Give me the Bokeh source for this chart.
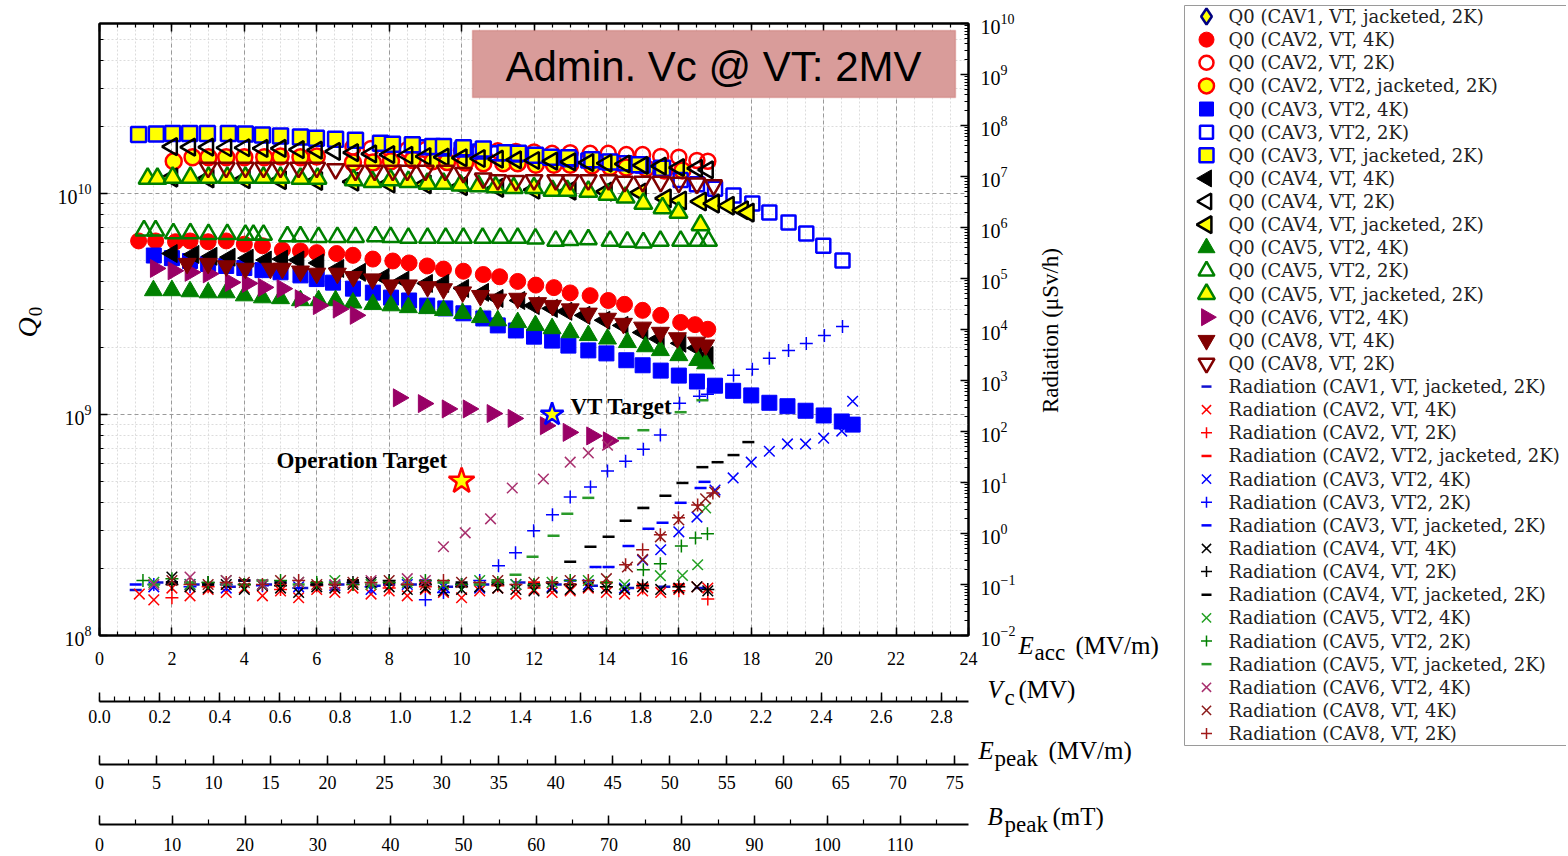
import math
from bokeh.plotting import figure
from bokeh.core.properties import value
from bokeh.models import (Range1d, LogScale, LinearAxis, LogAxis, FixedTicker, Label,
                          BoxAnnotation, ColumnDataSource, LogTickFormatter,
                          PrintfTickFormatter)
from bokeh.embed import file_html
from bokeh.resources import INLINE

# ---------------- data (Eacc in MV/m, Q0, radiation in uSv/h) ----------------
q_cav1_jk_x = []
q_cav1_jk = []
q_cav2_4k_x = [1.08, 1.55, 2.1, 2.5, 3.0, 3.5, 4.0, 4.5, 5.05, 5.55, 6.0, 6.55, 7.0, 7.55, 8.1, 8.55, 9.05, 9.5, 10.05, 10.6, 11.05, 11.55, 12.05, 12.55, 13.0, 13.55, 14.05, 14.5, 15.0, 15.5, 16.05, 16.45, 16.8]
q_cav2_4k = [6.1e9, 6.1e9, 6.05e9, 6.1e9, 6.05e9, 6.1e9, 5.9e9, 5.8e9, 5.55e9, 5.5e9, 5.4e9, 5.35e9, 5.25e9, 5.05e9, 4.95e9, 4.85e9, 4.7e9, 4.55e9, 4.45e9, 4.3e9, 4.2e9, 4.0e9, 3.85e9, 3.75e9, 3.55e9, 3.45e9, 3.28e9, 3.15e9, 2.96e9, 2.81e9, 2.61e9, 2.55e9, 2.43e9]
q_cav2_2k_x = [7.0, 7.5, 8.0, 8.5, 9.0, 9.5, 10.0, 10.5, 11.0, 11.5, 12.0, 12.5, 13.0, 13.55, 14.05, 14.55, 15.0, 15.5, 16.0, 16.5, 16.8]
q_cav2_2k = [1.62e10, 1.6e10, 1.6e10, 1.58e10, 1.58e10, 1.57e10, 1.56e10, 1.56e10, 1.56e10, 1.55e10, 1.54e10, 1.52e10, 1.53e10, 1.52e10, 1.52e10, 1.5e10, 1.5e10, 1.47e10, 1.46e10, 1.41e10, 1.4e10]
q_cav2_jk_x = [2.05, 2.57, 3.01, 3.5, 4.0, 4.55, 5.0, 5.55, 6.0, 7.0, 7.55, 8.05, 8.65, 9.2, 9.6, 10.1, 10.6, 11.15, 11.55, 12.05, 12.55, 13.0, 13.6, 14.1, 14.55, 15.1, 15.6, 16.1]
q_cav2_jk = [1.40e10, 1.46e10, 1.46e10, 1.46e10, 1.46e10, 1.46e10, 1.47e10, 1.46e10, 1.47e10, 1.38e10, 1.38e10, 1.40e10, 1.42e10, 1.40e10, 1.39e10, 1.38e10, 1.37e10, 1.37e10, 1.37e10, 1.35e10, 1.35e10, 1.35e10, 1.34e10, 1.32e10, 1.31e10, 1.3e10, 1.27e10, 1.27e10]
q_cav3_4k_x = [1.5, 2.0, 2.5, 3.0, 3.5, 4.0, 4.5, 5.0, 5.55, 6.0, 6.45, 7.0, 7.55, 8.05, 8.55, 9.05, 9.55, 10.05, 10.6, 11.0, 11.5, 12.0, 12.5, 12.95, 13.5, 14.0, 14.55, 15.0, 15.5, 16.0, 16.5, 17.0, 17.5, 18.0, 18.5, 19.0, 19.5, 20.0, 20.5, 20.8]
q_cav3_4k = [5.24e9, 5.1e9, 4.95e9, 4.8e9, 4.7e9, 4.6e9, 4.5e9, 4.4e9, 4.26e9, 4.1e9, 3.95e9, 3.71e9, 3.56e9, 3.38e9, 3.28e9, 3.11e9, 3.02e9, 2.87e9, 2.72e9, 2.53e9, 2.40e9, 2.25e9, 2.16e9, 2.05e9, 1.95e9, 1.89e9, 1.76e9, 1.67e9, 1.58e9, 1.50e9, 1.41e9, 1.35e9, 1.28e9, 1.22e9, 1.13e9, 1.09e9, 1.04e9, 9.9e8, 9.3e8, 9.0e8]
q_cav3_2k_x = [9.0, 9.5, 10.0, 10.5, 11.0, 11.5, 12.0, 12.5, 13.0, 13.5, 14.0, 14.5, 15.0, 15.5, 16.05, 16.5, 17.0, 17.51, 18.03, 18.5, 19.03, 19.52, 19.99, 20.52]
q_cav3_2k = [1.62e10, 1.6e10, 1.58e10, 1.55e10, 1.52e10, 1.5e10, 1.48e10, 1.45e10, 1.43e10, 1.41e10, 1.39e10, 1.37e10, 1.34e10, 1.3e10, 1.15e10, 1.1e10, 1.05e10, 9.8e9, 9.0e9, 8.2e9, 7.4e9, 6.6e9, 5.8e9, 4.98e9]
q_cav3_jk_x = [1.08, 1.57, 2.02, 2.49, 2.98, 3.56, 4.03, 4.5, 5.0, 5.55, 5.99, 6.52, 7.07, 7.76, 8.09, 8.64, 9.2, 9.5, 10.05, 10.6, 11.2, 11.57, 12.04, 12.46, 12.95, 13.6, 14.1, 14.9, 15.55]
q_cav3_jk = [1.85e10, 1.86e10, 1.87e10, 1.87e10, 1.87e10, 1.87e10, 1.86e10, 1.84e10, 1.82e10, 1.80e10, 1.78e10, 1.76e10, 1.74e10, 1.69e10, 1.67e10, 1.66e10, 1.63e10, 1.63e10, 1.61e10, 1.59e10, 1.53e10, 1.52e10, 1.49e10, 1.46e10, 1.45e10, 1.42e10, 1.39e10, 1.35e10, 1.30e10]
q_cav4_4k_x = [2.0, 2.6, 3.1, 3.6, 4.1, 4.6, 5.05, 5.5, 6.05, 6.6, 7.2, 7.85, 8.4, 9.05, 9.5, 10.05, 10.6, 11.0, 11.6, 12.0, 12.5, 12.9, 13.4, 13.95, 14.45, 15.0, 15.45, 16.05, 16.5, 16.8]
q_cav4_4k = [5.35e9, 5.3e9, 5.2e9, 5.15e9, 5.1e9, 5.0e9, 5.05e9, 5.0e9, 4.85e9, 4.58e9, 4.4e9, 4.17e9, 4.05e9, 3.92e9, 3.92e9, 3.72e9, 3.57e9, 3.35e9, 3.28e9, 3.11e9, 3.02e9, 2.93e9, 2.81e9, 2.67e9, 2.53e9, 2.35e9, 2.2e9, 2.1e9, 2.0e9, 1.85e9]
q_cav4_2k_x = [2.0, 2.5, 3.0, 3.5, 4.0, 4.5, 5.0, 5.5, 6.0, 6.5, 7.0, 7.5, 8.0, 8.5, 9.0, 9.5, 10.0, 10.5, 11.0, 11.5, 12.0, 12.5, 13.0, 13.5, 14.0, 14.5, 15.0, 15.5, 16.0, 16.5, 16.8]
q_cav4_2k = [1.63e10, 1.62e10, 1.62e10, 1.61e10, 1.61e10, 1.6e10, 1.6e10, 1.58e10, 1.57e10, 1.55e10, 1.53e10, 1.51e10, 1.5e10, 1.49e10, 1.47e10, 1.46e10, 1.45e10, 1.44e10, 1.43e10, 1.42e10, 1.41e10, 1.4e10, 1.39e10, 1.38e10, 1.37e10, 1.36e10, 1.34e10, 1.33e10, 1.31e10, 1.3e10, 1.28e10]
q_cav4_jk_x = [2.0, 3.0, 4.0, 5.0, 6.0, 7.0, 8.0, 9.0, 10.0, 11.0, 12.0, 13.0, 14.0, 14.94, 15.63, 16.05, 16.6, 16.96, 17.37, 17.76, 17.92]
q_cav4_jk = [1.18e10, 1.17e10, 1.16e10, 1.15e10, 1.14e10, 1.13e10, 1.11e10, 1.1e10, 1.08e10, 1.06e10, 1.04e10, 1.03e10, 1.02e10, 1.01e10, 9.5e9, 9.3e9, 9.2e9, 9.0e9, 8.8e9, 8.4e9, 8.2e9]
q_cav5_4k_x = [1.49, 2.0, 2.5, 3.0, 3.5, 4.0, 4.5, 5.0, 5.55, 6.05, 6.52, 7.0, 7.55, 8.05, 8.53, 9.06, 9.5, 10.03, 10.52, 11.0, 11.55, 12.04, 12.5, 13.0, 13.5, 14.03, 14.58, 15.08, 15.49, 16.0, 16.52, 16.74]
q_cav5_4k = [3.64e9, 3.64e9, 3.6e9, 3.56e9, 3.56e9, 3.45e9, 3.38e9, 3.35e9, 3.28e9, 3.28e9, 3.28e9, 3.2e9, 3.15e9, 3.11e9, 3.05e9, 3.02e9, 2.96e9, 2.87e9, 2.75e9, 2.66e9, 2.61e9, 2.53e9, 2.45e9, 2.35e9, 2.28e9, 2.2e9, 2.12e9, 2.03e9, 1.95e9, 1.85e9, 1.76e9, 1.70e9]
q_cav5_2k_x = [1.23, 1.55, 2.04, 2.51, 3.01, 3.53, 4.03, 4.25, 4.53, 5.19, 5.55, 6.05, 6.57, 7.07, 7.62, 8.04, 8.53, 9.06, 9.56, 10.05, 10.58, 11.07, 11.55, 12.04, 12.6, 13.0, 13.5, 14.1, 14.58, 15.02, 15.49, 16.05, 16.52, 16.82]
q_cav5_2k = [6.8e9, 6.8e9, 6.6e9, 6.6e9, 6.55e9, 6.55e9, 6.5e9, 6.5e9, 6.5e9, 6.4e9, 6.4e9, 6.35e9, 6.35e9, 6.35e9, 6.4e9, 6.35e9, 6.3e9, 6.3e9, 6.3e9, 6.3e9, 6.3e9, 6.3e9, 6.3e9, 6.25e9, 6.1e9, 6.15e9, 6.2e9, 6.1e9, 6.05e9, 6.0e9, 6.1e9, 6.1e9, 6.1e9, 6.1e9]
q_cav5_jk_x = [1.33, 1.6, 2.02, 2.51, 3.01, 3.53, 4.03, 4.53, 5.0, 5.55, 6.02, 7.02, 7.54, 8.04, 8.53, 9.06, 9.5, 9.97, 10.47, 10.94, 11.44, 12.0, 12.51, 12.92, 13.5, 14.03, 14.53, 15.02, 15.55, 15.99, 16.6]
q_cav5_jk = [1.17e10, 1.17e10, 1.18e10, 1.18e10, 1.18e10, 1.18e10, 1.18e10, 1.18e10, 1.18e10, 1.17e10, 1.17e10, 1.15e10, 1.13e10, 1.15e10, 1.13e10, 1.11e10, 1.11e10, 1.09e10, 1.08e10, 1.07e10, 1.06e10, 1.06e10, 1.03e10, 1.03e10, 1.02e10, 9.9e9, 9.6e9, 9.0e9, 8.6e9, 8.2e9, 7.2e9]
q_cav6_4k_x = [1.55, 2.04, 2.51, 3.01, 3.62, 4.09, 4.53, 5.05, 5.55, 6.05, 6.6, 7.07, 8.26, 8.95, 9.61, 10.19, 10.85, 11.43, 12.32, 12.95, 13.6, 14.06]
q_cav6_4k = [4.58e9, 4.47e9, 4.4e9, 4.33e9, 3.96e9, 3.92e9, 3.76e9, 3.71e9, 3.34e9, 3.11e9, 3.0e9, 2.81e9, 1.19e9, 1.12e9, 1.06e9, 1.06e9, 1.01e9, 9.6e8, 8.9e8, 8.3e8, 8.0e8, 7.6e8]
q_cav8_4k_x = [2.42, 3.0, 3.5, 4.03, 4.72, 5.05, 5.55, 6.0, 6.57, 7.01, 7.54, 8.04, 8.53, 9.06, 9.5, 10.03, 10.52, 11.0, 11.55, 12.1, 12.51, 13.0, 13.5, 14.03, 14.47, 15.0, 15.49, 15.96, 16.49, 16.74]
q_cav8_4k = [4.82e9, 4.82e9, 4.7e9, 4.58e9, 4.58e9, 4.58e9, 4.45e9, 4.35e9, 4.35e9, 4.2e9, 4.1e9, 3.85e9, 3.85e9, 3.78e9, 3.7e9, 3.58e9, 3.45e9, 3.32e9, 3.35e9, 3.2e9, 3.11e9, 3.0e9, 2.87e9, 2.72e9, 2.58e9, 2.48e9, 2.35e9, 2.22e9, 2.12e9, 2.06e9]
q_cav8_2k_x = [3.0, 3.5, 4.03, 4.53, 5.0, 5.5, 6.0, 6.52, 7.07, 7.6, 8.1, 8.5, 9.0, 9.55, 10.05, 10.6, 11.0, 11.5, 12.0, 12.6, 13.0, 13.5, 14.06, 14.5, 15.0, 15.5, 16.0, 16.5, 16.96]
q_cav8_2k = [1.31e10, 1.31e10, 1.31e10, 1.31e10, 1.31e10, 1.31e10, 1.31e10, 1.29e10, 1.27e10, 1.27e10, 1.27e10, 1.27e10, 1.27e10, 1.27e10, 1.24e10, 1.17e10, 1.15e10, 1.14e10, 1.15e10, 1.15e10, 1.15e10, 1.15e10, 1.15e10, 1.13e10, 1.13e10, 1.13e10, 1.12e10, 1.11e10, 1.09e10]

r_cav1_jk_x = [1.0, 1.6, 2.6, 3.6, 4.6, 5.6, 6.6, 7.6, 8.6, 9.6, 10.6, 11.6, 12.6, 13.6, 14.6, 15.6, 16.6]
r_cav1_jk = [0.078, 0.11, 0.1, 0.09, 0.1, 0.085, 0.1, 0.095, 0.1, 0.09, 0.1, 0.11, 0.1, 0.095, 0.085, 0.09, 0.085]
r_cav2_4k_x = [1.1, 1.5, 2.0, 2.5, 3.0, 3.5, 4.0, 4.5, 5.0, 5.5, 6.0, 6.5, 7.0, 7.5, 8.0, 8.5, 9.0, 9.5, 10.0, 10.5, 11.0, 11.5, 12.0, 12.5, 13.0, 13.5, 14.0, 14.5, 15.0, 15.5, 16.0, 16.5, 16.8]
r_cav2_4k = [0.065, 0.05, 0.085, 0.06, 0.08, 0.07, 0.085, 0.06, 0.075, 0.055, 0.08, 0.07, 0.085, 0.065, 0.075, 0.06, 0.08, 0.07, 0.055, 0.075, 0.085, 0.065, 0.08, 0.07, 0.075, 0.085, 0.07, 0.065, 0.075, 0.07, 0.08, 0.09, 0.085]
r_cav2_2k_x = [2.0, 3.0, 4.0, 5.0, 6.0, 7.0, 8.0, 9.0, 10.0, 11.0, 12.0, 13.0, 14.0, 15.0, 16.0, 16.8]
r_cav2_2k = [0.055, 0.09, 0.1, 0.08, 0.095, 0.1, 0.085, 0.09, 0.1, 0.095, 0.085, 0.1, 0.09, 0.085, 0.075, 0.052]
r_cav2_jk_x = [2.0, 3.0, 4.0, 5.0, 6.0, 7.0, 8.0, 9.0, 10.0, 11.0, 12.0, 13.0, 14.0, 15.0, 16.0]
r_cav2_jk = [0.11, 0.1, 0.12, 0.1, 0.11, 0.12, 0.1, 0.11, 0.1, 0.12, 0.11, 0.1, 0.11, 0.1, 0.1]
r_cav3_4k_x = [1.5, 2.5, 3.5, 4.5, 5.5, 6.5, 7.5, 8.5, 9.5, 10.5, 11.5, 12.5, 13.5, 14.5, 15.0, 15.5, 16.0, 16.5, 17.0, 17.5, 18.0, 18.5, 19.0, 19.5, 20.0, 20.5, 20.8]
r_cav3_4k = [0.09, 0.1, 0.085, 0.1, 0.09, 0.095, 0.08, 0.1, 0.09, 0.085, 0.1, 0.09, 0.1, 0.085, 0.3, 0.48, 1.08, 2.1, 7.1, 12.3, 25, 41, 57, 57, 74, 102, 392]
r_cav3_2k_x = [1.5, 2.5, 3.5, 4.5, 5.5, 6.5, 7.5, 8.5, 9.0, 9.5, 10.0, 10.5, 11.02, 11.49, 11.99, 12.51, 13.0, 13.56, 14.03, 14.53, 15.02, 15.49, 16.02, 16.57, 16.79, 17.51, 18.03, 18.5, 19.03, 19.52, 20.02, 20.52]
r_cav3_2k = [0.1, 0.09, 0.1, 0.095, 0.085, 0.1, 0.09, 0.1, 0.05, 0.07, 0.1, 0.12, 0.234, 0.42, 1.13, 2.32, 5.2, 8.2, 16.8, 26, 45, 85, 358, 491, 537, 1263, 1655, 2716, 3890, 5330, 7640, 11460]
r_cav3_jk_x = [1.0, 2.0, 3.0, 4.0, 5.0, 6.0, 7.0, 8.0, 9.0, 10.0, 11.0, 12.0, 13.0, 13.7, 14.06, 14.61, 15.16, 15.55, 16.05, 16.6, 16.71]
r_cav3_jk = [0.1, 0.11, 0.1, 0.12, 0.11, 0.1, 0.11, 0.1, 0.12, 0.1, 0.11, 0.1, 0.12, 0.22, 0.22, 0.57, 1.24, 1.62, 4.0, 7.8, 10.3]
r_cav4_4k_x = [2.0, 2.5, 3.0, 3.5, 4.0, 4.5, 5.0, 5.5, 6.0, 6.5, 7.0, 7.5, 8.0, 8.5, 9.0, 9.5, 10.0, 10.5, 11.0, 11.5, 12.0, 12.5, 13.0, 13.5, 14.0, 14.5, 15.0, 15.5, 16.0, 16.5, 16.8]
r_cav4_4k = [0.14, 0.09, 0.085, 0.1, 0.08, 0.095, 0.085, 0.07, 0.09, 0.085, 0.1, 0.11, 0.09, 0.08, 0.085, 0.075, 0.08, 0.09, 0.085, 0.08, 0.075, 0.085, 0.08, 0.09, 0.085, 0.08, 0.09, 0.08, 0.085, 0.09, 0.075]
r_cav4_2k_x = [2.0, 3.0, 4.0, 5.0, 6.0, 7.0, 8.0, 9.0, 10.0, 11.0, 12.0, 13.0, 14.0, 15.0, 16.0, 16.8]
r_cav4_2k = [0.1, 0.11, 0.1, 0.095, 0.1, 0.11, 0.12, 0.1, 0.09, 0.1, 0.095, 0.1, 0.09, 0.095, 0.09, 0.08]
r_cav4_jk_x = [2.0, 3.0, 4.0, 5.0, 6.0, 7.0, 8.0, 9.0, 10.0, 11.0, 12.0, 12.5, 13.0, 13.56, 14.06, 14.53, 15.02, 15.63, 16.1, 16.65, 17.07, 17.51, 17.92]
r_cav4_jk = [0.11, 0.1, 0.12, 0.11, 0.1, 0.12, 0.11, 0.1, 0.11, 0.12, 0.1, 0.11, 0.28, 0.55, 0.86, 1.77, 3.18, 5.5, 9.8, 20, 25, 34.5, 62]
r_cav5_4k_x = [1.5, 2.5, 3.5, 4.5, 5.5, 6.5, 7.5, 8.5, 9.5, 10.5, 11.5, 12.5, 13.5, 14.5, 15.49, 16.1, 16.52, 16.74]
r_cav5_4k = [0.11, 0.1, 0.12, 0.1, 0.11, 0.12, 0.1, 0.11, 0.1, 0.12, 0.1, 0.11, 0.12, 0.1, 0.149, 0.15, 0.244, 3.18]
r_cav5_2k_x = [1.2, 2.0, 3.0, 4.0, 5.0, 6.0, 7.0, 8.0, 9.0, 10.0, 11.0, 12.0, 13.0, 14.0, 15.02, 15.49, 16.07, 16.46, 16.79]
r_cav5_2k = [0.12, 0.13, 0.11, 0.1, 0.12, 0.11, 0.1, 0.11, 0.12, 0.1, 0.11, 0.1, 0.12, 0.11, 0.195, 0.256, 0.57, 0.82, 0.99]
r_cav5_jk_x = [1.5, 2.5, 3.5, 4.5, 5.5, 6.5, 7.5, 8.5, 9.5, 10.5, 11.0, 11.49, 11.96, 12.54, 12.92, 13.5, 14.47, 15.02, 16.05, 16.65]
r_cav5_jk = [0.1, 0.11, 0.1, 0.12, 0.1, 0.11, 0.1, 0.1, 0.11, 0.1, 0.12, 0.156, 0.35, 0.9, 2.43, 5.0, 74, 106, 239, 410]
r_cav6_4k_x = [1.5, 2.5, 3.5, 4.5, 5.5, 6.5, 7.5, 8.5, 9.0, 9.5, 10.1, 10.8, 11.4, 12.26, 13.0, 13.5, 14.03]
r_cav6_4k = [0.1, 0.14, 0.12, 0.1, 0.11, 0.1, 0.12, 0.13, 0.12, 0.55, 1.03, 1.94, 7.8, 11.7, 25, 38, 54]
r_cav8_4k_x = [2.0, 3.0, 4.0, 5.0, 6.0, 7.0, 8.0, 9.0, 10.0, 11.0, 12.0, 13.0, 14.0, 14.58, 15.0, 15.49, 16.0, 16.52, 16.74, 16.99]
r_cav8_4k = [0.12, 0.1, 0.11, 0.12, 0.1, 0.11, 0.12, 0.1, 0.11, 0.12, 0.11, 0.12, 0.13, 0.22, 0.31, 0.86, 1.85, 3.3, 4.8, 6.5]
r_cav8_2k_x = [2.5, 3.5, 4.5, 5.5, 6.5, 7.5, 8.5, 9.5, 10.5, 11.5, 12.5, 13.5, 14.53, 15.0, 15.49, 15.99, 16.52, 16.94]
r_cav8_2k = [0.1, 0.11, 0.1, 0.12, 0.1, 0.11, 0.1, 0.12, 0.11, 0.1, 0.11, 0.12, 0.244, 0.48, 0.94, 2.03, 3.64, 6.2]

vt_target_x = [12.5]
vt_target_q = [1.0e9]
op_target_x = [10.0]
op_target_q = [5.0e8]

eacc_ticks = [0, 2, 4, 6, 8, 10, 12, 14, 16, 18, 20, 22, 24]
vc_ticks = [0.0, 0.2, 0.4, 0.6, 0.8, 1.0, 1.2, 1.4, 1.6, 1.8, 2.0, 2.2, 2.4, 2.6, 2.8]
epeak_ticks = [0, 5, 10, 15, 20, 25, 30, 35, 40, 45, 50, 55, 60, 65, 70, 75]
bpeak_ticks = [0, 10, 20, 30, 40, 50, 60, 70, 80, 90, 100, 110]
q_ticks = [1e8, 1e9, 1e10]
rad_ticks = [1e-2, 1e-1, 1e0, 1e1, 1e2, 1e3, 1e4, 1e5, 1e6, 1e7, 1e8, 1e9, 1e10]

# ---------------- geometry ----------------
W, H = 1566, 856
FL, FT, FW, FH = 99, 23, 869, 612
E_MAX = 24.0
VC_MAX, EP_MAX, BP_MAX = 2.89, 76.2, 119.4
DEC = 221.0                           # px per Q0 decade


def ex(px):
    return (px - FL) / FW * E_MAX


def qy(py):
    return 10 ** (8 + (FT + FH - py) / DEC)


SERIF = "Liberation Serif"

p = figure(width=W, height=H, x_range=Range1d(0, E_MAX),
           y_range=Range1d(1e8, 10 ** (8 + FH / DEC)), y_axis_type="log",
           output_backend="svg", toolbar_location=None,
           min_border_left=FL, min_border_top=FT,
           min_border_right=W - FL - FW, min_border_bottom=H - FT - FH)
p.background_fill_color = "white"
p.border_fill_color = "white"
p.outline_line_color = "black"
p.outline_line_width = 2
p.extra_y_ranges = {"rad": Range1d(1e-2, 1e10)}
p.extra_y_scales = {"rad": LogScale()}
p.extra_x_ranges = {"vc": Range1d(0, VC_MAX), "ep": Range1d(0, EP_MAX), "bp": Range1d(0, BP_MAX)}


def minor_lin(step, hi):
    n = int(round(hi / step))
    return [round(i * step, 4) for i in range(n + 1)]


def minor_log(lo_exp, hi_exp):
    return [k * 10.0 ** e for e in range(lo_exp, hi_exp) for k in range(2, 10)]


xt = FixedTicker(ticks=eacc_ticks, minor_ticks=minor_lin(0.5, 24))
qt = FixedTicker(ticks=q_ticks, minor_ticks=minor_log(8, 11))
rt = FixedTicker(ticks=rad_ticks, minor_ticks=minor_log(-2, 10))


def style_axis(ax, tick_in=8, minor_in=4, size="18px", standoff=8):
    ax.axis_line_width = 2
    ax.axis_line_color = "black"
    ax.major_tick_in = tick_in
    ax.major_tick_out = 0
    ax.minor_tick_in = minor_in
    ax.minor_tick_out = 0
    ax.major_tick_line_width = 1.5
    ax.minor_tick_line_width = 1.2
    ax.major_label_text_font = SERIF
    ax.major_label_text_font_size = size
    ax.major_label_text_color = "black"
    ax.major_label_standoff = standoff


xa = p.xaxis[0]
xa.ticker = xt
style_axis(xa, standoff=16)
xa.axis_label = " "
xa.axis_label_text_font_size = "20px"
xa.axis_label_standoff = 9

ya = p.yaxis[0]
ya.ticker = qt
style_axis(ya, size="20px", standoff=8)

p.xgrid.ticker = xt
p.ygrid.ticker = qt
for g in (p.xgrid[0], p.ygrid[0]):
    g.grid_line_color = "#9a9a9a"
    g.grid_line_dash = "4 3"
    g.grid_line_width = 1
    g.minor_grid_line_color = "#dcdcdc"
    g.minor_grid_line_dash = "2 2"
    g.minor_grid_line_width = 1

ta = LinearAxis(ticker=xt)
style_axis(ta, size="1px", standoff=0)
ta.major_label_text_alpha = 0
p.add_layout(ta, "above")

ra = LogAxis(y_range_name="rad", ticker=rt, formatter=LogTickFormatter())
style_axis(ra, size="20px", standoff=12)
p.add_layout(ra, "right")

vca = LinearAxis(x_range_name="vc", ticker=FixedTicker(ticks=vc_ticks, minor_ticks=minor_lin(0.05, 2.85)),
                 formatter=PrintfTickFormatter(format="%.1f"))
style_axis(vca, tick_in=9, minor_in=5, standoff=8)
vca.axis_label = " "
vca.axis_label_text_font_size = "20px"
vca.axis_label_standoff = 14
p.add_layout(vca, "below")

epa = LinearAxis(x_range_name="ep", ticker=FixedTicker(ticks=epeak_ticks, minor_ticks=minor_lin(2.5, 75)))
style_axis(epa, tick_in=9, minor_in=5, standoff=11)
epa.axis_label = " "
epa.axis_label_text_font_size = "20px"
epa.axis_label_standoff = 8
p.add_layout(epa, "below")

bpa = LinearAxis(x_range_name="bp", ticker=FixedTicker(ticks=bpeak_ticks, minor_ticks=minor_lin(5, 115)))
style_axis(bpa, tick_in=9, minor_in=5, standoff=13)
p.add_layout(bpa, "below")

# ---------------- series ----------------
GREEN = "#008000"
PURPLE = "#990066"
DRED = "#800000"
YEL = "#ffff00"
HALF = math.pi / 2

q_specs = [
    ("Q0 (CAV1, VT, jacketed, 2K)", q_cav1_jk_x, q_cav1_jk, "diamond", 17, YEL, "#000080", 2.5, 0),
    ("Q0 (CAV2, VT, 4K)", q_cav2_4k_x, q_cav2_4k, "circle", 16, "red", "red", 1, 0),
    ("Q0 (CAV2, VT, 2K)", q_cav2_2k_x, q_cav2_2k, "circle", 15, None, "red", 2.5, 0),
    ("Q0 (CAV2, VT2, jacketed, 2K)", q_cav2_jk_x, q_cav2_jk, "circle", 16, YEL, "red", 2.5, 0),
    ("Q0 (CAV3, VT2, 4K)", q_cav3_4k_x, q_cav3_4k, "square", 15, "blue", "blue", 1, 0),
    ("Q0 (CAV3, VT2, 2K)", q_cav3_2k_x, q_cav3_2k, "square", 14, None, "blue", 2.5, 0),
    ("Q0 (CAV3, VT, jacketed, 2K)", q_cav3_jk_x, q_cav3_jk, "square", 15, YEL, "blue", 2.5, 0),
    ("Q0 (CAV4, VT, 4K)", q_cav4_4k_x, q_cav4_4k, "triangle", 18, "black", "black", 1, HALF),
    ("Q0 (CAV4, VT, 2K)", q_cav4_2k_x, q_cav4_2k, "triangle", 17, None, "black", 2.5, HALF),
    ("Q0 (CAV4, VT, jacketed, 2K)", q_cav4_jk_x, q_cav4_jk, "triangle", 18, YEL, "black", 2.5, HALF),
    ("Q0 (CAV5, VT2, 4K)", q_cav5_4k_x, q_cav5_4k, "triangle", 18, GREEN, GREEN, 1, 0),
    ("Q0 (CAV5, VT2, 2K)", q_cav5_2k_x, q_cav5_2k, "triangle", 17, None, GREEN, 2.5, 0),
    ("Q0 (CAV5, VT, jacketed, 2K)", q_cav5_jk_x, q_cav5_jk, "triangle", 18, YEL, GREEN, 2.5, 0),
    ("Q0 (CAV6, VT2, 4K)", q_cav6_4k_x, q_cav6_4k, "triangle", 18, PURPLE, PURPLE, 1, -HALF),
    ("Q0 (CAV8, VT, 4K)", q_cav8_4k_x, q_cav8_4k, "inverted_triangle", 18, DRED, DRED, 1, 0),
    ("Q0 (CAV8, VT, 2K)", q_cav8_2k_x, q_cav8_2k, "inverted_triangle", 17, None, DRED, 2.5, 0),
]

r_specs = [
    ("Radiation (CAV1, VT, jacketed, 2K)", r_cav1_jk_x, r_cav1_jk, "dash", "#1010d0", 12, 2.5),
    ("Radiation (CAV2, VT, 4K)", r_cav2_4k_x, r_cav2_4k, "x", "red", 15, 1.5),
    ("Radiation (CAV2, VT, 2K)", r_cav2_2k_x, r_cav2_2k, "cross", "red", 13, 1.5),
    ("Radiation (CAV2, VT2, jacketed, 2K)", r_cav2_jk_x, r_cav2_jk, "dash", "red", 12, 2.5),
    ("Radiation (CAV3, VT2, 4K)", r_cav3_4k_x, r_cav3_4k, "x", "blue", 15, 1.5),
    ("Radiation (CAV3, VT2, 2K)", r_cav3_2k_x, r_cav3_2k, "cross", "blue", 13, 1.5),
    ("Radiation (CAV3, VT, jacketed, 2K)", r_cav3_jk_x, r_cav3_jk, "dash", "blue", 12, 2.5),
    ("Radiation (CAV4, VT, 4K)", r_cav4_4k_x, r_cav4_4k, "x", "black", 15, 1.5),
    ("Radiation (CAV4, VT, 2K)", r_cav4_2k_x, r_cav4_2k, "cross", "black", 13, 1.5),
    ("Radiation (CAV4, VT, jacketed, 2K)", r_cav4_jk_x, r_cav4_jk, "dash", "black", 12, 2.5),
    ("Radiation (CAV5, VT2, 4K)", r_cav5_4k_x, r_cav5_4k, "x", "#22a022", 15, 1.5),
    ("Radiation (CAV5, VT2, 2K)", r_cav5_2k_x, r_cav5_2k, "cross", GREEN, 13, 1.5),
    ("Radiation (CAV5, VT, jacketed, 2K)", r_cav5_jk_x, r_cav5_jk, "dash", "#2a9a2a", 12, 2.5),
    ("Radiation (CAV6, VT2, 4K)", r_cav6_4k_x, r_cav6_4k, "x", "#a8306e", 15, 1.5),
    ("Radiation (CAV8, VT, 4K)", r_cav8_4k_x, r_cav8_4k, "x", "#8b1a1a", 15, 1.5),
    ("Radiation (CAV8, VT, 2K)", r_cav8_2k_x, r_cav8_2k, "cross", "#a01818", 13, 1.5),
]

for label, xs, ys, mk, sz, fill, line, lw, ang in q_specs:
    p.scatter(x=xs, y=ys, marker=mk, size=sz, angle=ang,
              fill_color=fill, fill_alpha=1.0 if fill else 0.0,
              line_color=line, line_width=lw)

for label, xs, ys, mk, col, sz, lw in r_specs:
    p.scatter(x=xs, y=ys, marker=mk, size=sz, y_range_name="rad",
              line_color=col, fill_color=col, line_width=lw)

p.scatter(x=vt_target_x, y=vt_target_q, marker="star", size=24,
          fill_color=YEL, line_color="blue", line_width=2.5)
p.scatter(x=op_target_x, y=op_target_q, marker="star", size=27,
          fill_color=YEL, line_color="red", line_width=2.5)

# ---------------- in-frame annotations ----------------
def lab(px, py, text, size, style="normal", font=SERIF, align="left"):
    p.add_layout(Label(x=ex(px), y=qy(py), text=text, text_font=font,
                       text_font_size=size, text_font_style=style,
                       text_align=align, text_baseline="middle", text_color="black"))


p.add_layout(BoxAnnotation(left=ex(472), right=ex(955), top=qy(30), bottom=qy(97),
                           fill_color="#d99c9a", fill_alpha=1.0,
                           line_color="#c0504d", line_width=1.5))
lab(713, 66, "Admin. Vc @ VT: 2MV", "42px", font="Liberation Sans", align="center")
lab(570, 406, "VT Target", "23px", style="bold")
lab(276, 460, "Operation Target", "23px", style="bold")

# ---------------- overlay: axis titles and legend (page-pixel coordinates) ----------------
ov = figure(width=W, height=H, x_range=Range1d(0, W), y_range=Range1d(H, 0),
            output_backend="svg", toolbar_location=None, title=None,
            x_axis_location=None, y_axis_location=None,
            min_border_left=0, min_border_right=0, min_border_top=0, min_border_bottom=0)
ov.grid.visible = False
ov.outline_line_color = None
ov.background_fill_alpha = 0.0
ov.border_fill_alpha = 0.0
ov.styles = {"position": "absolute", "left": "0px", "top": "0px"}


def otext(xs, ys, texts, size, style="normal", angle=0.0, align="left", font=SERIF, color="black"):
    ov.text(x=xs, y=ys, text=texts, text_font=value(font), text_font_size=value(size),
            text_font_style=value(style), text_align=align, text_baseline="middle",
            text_color=color, angle=angle)


# axis titles with subscripts
otext([1018, 987, 978, 987], [645, 689, 750, 816], ["E", "V", "E", "B"], "25px", style="italic")
otext([1034, 1004, 994, 1004], [652, 697, 758, 824], ["acc", "c", "peak", "peak"], "23px")
otext([1075, 1018, 1048, 1052], [645, 689, 750, 816], ["(MV/m)", "(MV)", "(MV/m)", "(mT)"], "25px")
otext([1050], [330], ["Radiation (\u03bcSv/h)"], "23px", angle=HALF, align="center")
otext([27], [327], ["Q"], "28px", style="italic", angle=HALF, align="center")
otext([35], [311], ["0"], "19px", angle=HALF, align="center")

# legend
leg_labels, leg_marker, leg_size, leg_fill, leg_falpha, leg_line, leg_lw, leg_angle = [], [], [], [], [], [], [], []
for label, xs, ys, mk, sz, fill, line, lw, ang in q_specs:
    leg_labels.append(label); leg_marker.append(mk); leg_size.append(sz - 1)
    leg_fill.append(fill if fill else "white"); leg_falpha.append(1.0 if fill else 0.0)
    leg_line.append(line); leg_lw.append(lw); leg_angle.append(ang)
for label, xs, ys, mk, col, sz, lw in r_specs:
    leg_labels.append(label); leg_marker.append(mk); leg_size.append(sz - 2)
    leg_fill.append(col); leg_falpha.append(1.0)
    leg_line.append(col); leg_lw.append(lw); leg_angle.append(0.0)

ROW0, ROWH = 16, 23.13
LEG_L, LEG_T, LEG_B = 1184, 5, 745
leg_y = [ROW0 + ROWH * i for i in range(len(leg_labels))]
leg_src = ColumnDataSource(dict(x=[LEG_L + 22] * len(leg_y), tx=[LEG_L + 44] * len(leg_y), y=leg_y,
                                label=leg_labels, marker=leg_marker, size=leg_size, fill=leg_fill,
                                falpha=leg_falpha, line=leg_line, lw=leg_lw, angle=leg_angle))
ov.quad(left=[LEG_L], right=[W + 5], top=[LEG_T], bottom=[LEG_B],
        fill_color="white", line_color="#9a9a9a", line_width=1)
ov.scatter(x="x", y="y", marker="marker", size="size", angle="angle", fill_color="fill",
           fill_alpha="falpha", line_color="line", line_width="lw", source=leg_src)
ov.text(x="tx", y="y", text="label", source=leg_src, text_font=value("DejaVu Serif"),
        text_font_size=value("18px"), text_baseline="middle", text_align="left", text_color="#222222")

open("out.html", "w").write(file_html([p, ov], INLINE))
